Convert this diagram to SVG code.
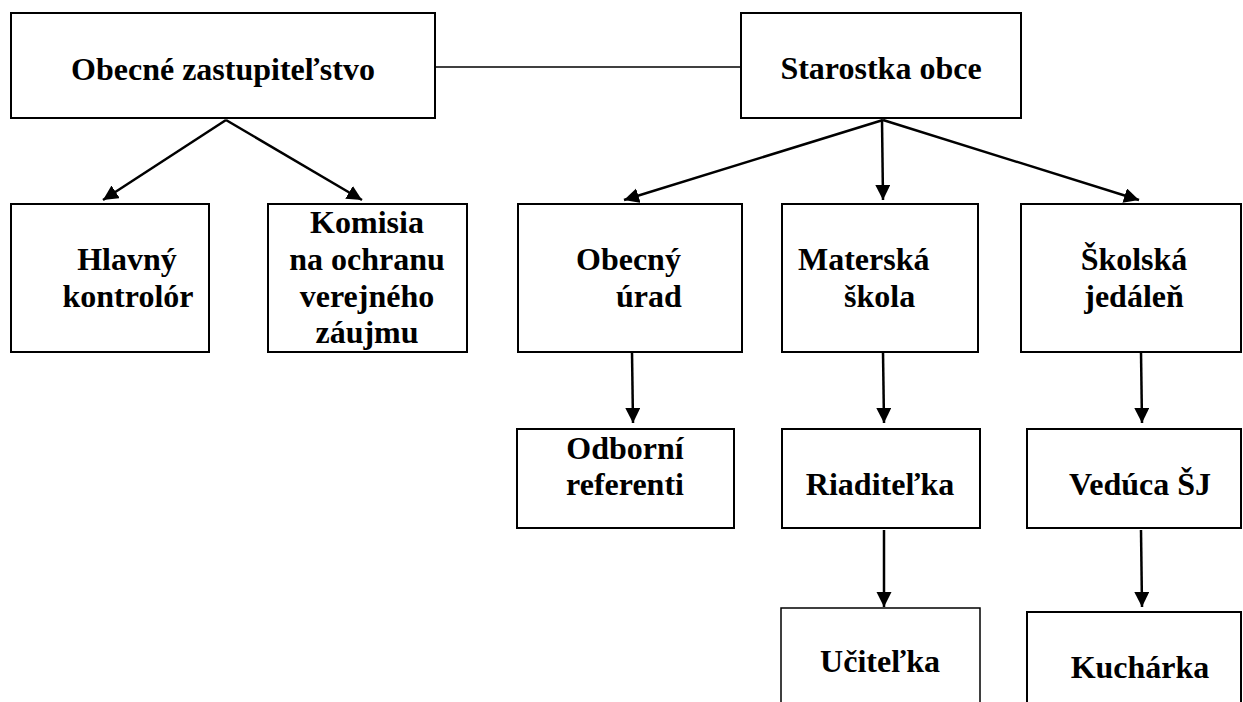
<svg xmlns="http://www.w3.org/2000/svg" width="1243" height="702" viewBox="0 0 1243 702">
<style>
.box{fill:#fff;stroke:#000;stroke-width:2}
.c{stroke:#000;stroke-width:2.5;fill:none}
</style>
<defs>
<marker id="ah" markerUnits="userSpaceOnUse" markerWidth="16" markerHeight="16" refX="15" refY="7.5" orient="auto">
<path d="M0,0 L15,7.5 L0,15 z" fill="#000"/>
</marker>
</defs>
<rect width="1243" height="702" fill="#fff"/>
<g id="connectors">
<line class="c" x1="435" y1="67" x2="741" y2="67" style="stroke-width:1.5"/>
<line class="c" x1="226" y1="120" x2="103" y2="200" marker-end="url(#ah)"/>
<line class="c" x1="226" y1="120" x2="362" y2="200" marker-end="url(#ah)"/>
<line class="c" x1="883" y1="120" x2="624" y2="200" marker-end="url(#ah)"/>
<line class="c" x1="882" y1="120" x2="883" y2="200" marker-end="url(#ah)"/>
<line class="c" x1="883" y1="120" x2="1139" y2="200" marker-end="url(#ah)"/>
<line class="c" x1="632" y1="352" x2="633" y2="423" marker-end="url(#ah)"/>
<line class="c" x1="883" y1="352" x2="884" y2="423" marker-end="url(#ah)"/>
<line class="c" x1="1141" y1="352" x2="1142" y2="423" marker-end="url(#ah)"/>
<line class="c" x1="884" y1="530" x2="884" y2="607" marker-end="url(#ah)"/>
<line class="c" x1="1141" y1="530" x2="1142" y2="607" marker-end="url(#ah)"/>
</g>
<g font-family="'Liberation Serif', 'Times New Roman', 'DejaVu Serif', serif" font-weight="bold" font-size="32" fill="#000">
<g id="zastupitelstvo">
<rect class="box" x="11" y="13" width="424" height="105"/>
<text x="223" y="80" text-anchor="middle">Obecné zastupiteľstvo</text>
</g>
<g id="starostka">
<rect class="box" x="741" y="13" width="280" height="105"/>
<text x="881" y="79" text-anchor="middle">Starostka obce</text>
</g>
<g id="kontrolor">
<rect class="box" x="11" y="204" width="198" height="148"/>
<text x="127" y="270" text-anchor="middle">Hlavný</text>
<text x="128" y="307" text-anchor="middle">kontrolór</text>
</g>
<g id="komisia">
<rect class="box" x="268" y="204" width="199" height="148"/>
<text x="367" y="233" text-anchor="middle">Komisia</text>
<text x="367" y="270" text-anchor="middle">na ochranu</text>
<text x="367" y="307" text-anchor="middle">verejného</text>
<text x="367" y="343" text-anchor="middle">záujmu</text>
</g>
<g id="urad">
<rect class="box" x="518" y="204" width="224" height="148"/>
<text x="576" y="270">Obecný</text>
<text x="616" y="307">úrad</text>
</g>
<g id="materska">
<rect class="box" x="782" y="204" width="196" height="148"/>
<text x="798" y="270">Materská</text>
<text x="844" y="307">škola</text>
</g>
<g id="jedalen">
<rect class="box" x="1021" y="204" width="220" height="148"/>
<text x="1134" y="270" text-anchor="middle">Školská</text>
<text x="1134" y="307" text-anchor="middle">jedáleň</text>
</g>
<g id="referenti">
<rect class="box" x="517" y="429" width="217" height="99"/>
<text x="625" y="459" text-anchor="middle">Odborní</text>
<text x="625" y="495" text-anchor="middle">referenti</text>
</g>
<g id="riaditelka">
<rect class="box" x="782" y="429" width="198" height="99"/>
<text x="880" y="495" text-anchor="middle">Riaditeľka</text>
</g>
<g id="veduca">
<rect class="box" x="1027" y="429" width="214" height="99"/>
<text x="1140" y="495" text-anchor="middle">Vedúca ŠJ</text>
</g>
<g id="ucitelka">
<rect class="box" x="781" y="608" width="199" height="100" style="stroke-width:1.5"/>
<text x="880" y="672" text-anchor="middle">Učiteľka</text>
</g>
<g id="kucharka">
<rect class="box" x="1027" y="612" width="214" height="100"/>
<text x="1140" y="678" text-anchor="middle">Kuchárka</text>
</g>
</g>
</svg>
